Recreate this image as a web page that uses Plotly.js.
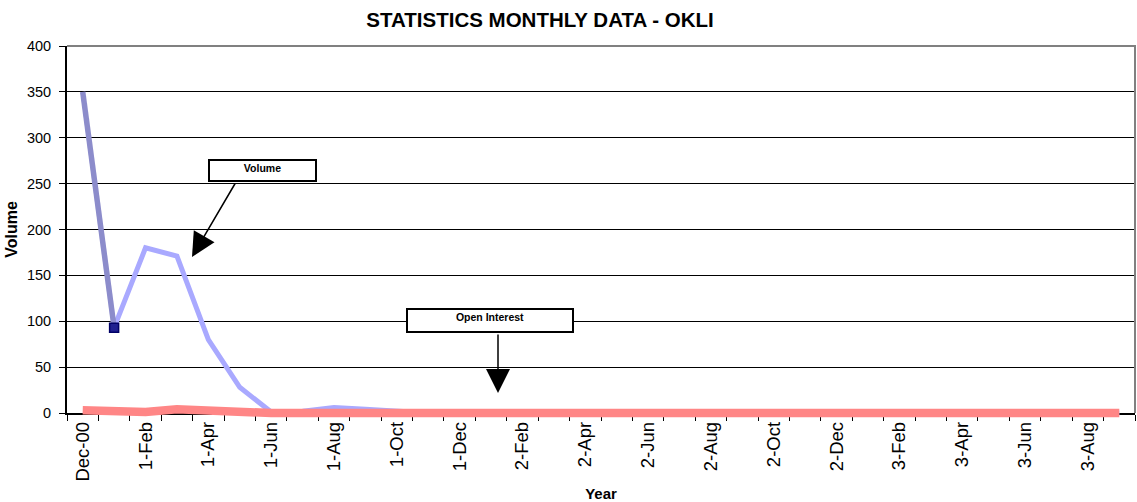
<!DOCTYPE html>
<html><head><meta charset="utf-8">
<script src="https://cdn.plot.ly/plotly-3.0.1.min.js"></script>
<style>html,body{margin:0;padding:0;background:#fff}#chart{width:1137px;height:502px}</style>
</head><body><div id="chart"></div>
<script>
const months = ['Dec-00','1-Jan','1-Feb','1-Mar','1-Apr','1-May','1-Jun','1-Jul','1-Aug','1-Sep','1-Oct','1-Nov','1-Dec',
  '2-Jan','2-Feb','2-Mar','2-Apr','2-May','2-Jun','2-Jul','2-Aug','2-Sep','2-Oct','2-Nov','2-Dec',
  '3-Jan','3-Feb','3-Mar','3-Apr','3-May','3-Jun','3-Jul','3-Aug','3-Sep'];
const tickLabels = ['Dec-00','1-Feb','1-Apr','1-Jun','1-Aug','1-Oct','1-Dec','2-Feb','2-Apr','2-Jun','2-Aug','2-Oct','2-Dec','3-Feb','3-Apr','3-Jun','3-Aug'];
const volume = [350, 93, 180, 171, 80, 28, 1, 2, 6, 4, 2, 0, 0,
  0, 0, 0, 0, 0, 0, 0, 0, 0, 0, 0, 0,
  0, 0, 0, 0, 0, 0, 0, 0, 0];
const openInterest = [3, 3, 1, 4, 2, 1, 0, 0, 0, 0, 0, 0, 0,
  0, 0, 0, 0, 0, 0, 0, 0, 0, 0, 0, 0,
  0, 0, 0, 0, 0, 0, 0, 0, 0];
const yTicks = [0, 50, 100, 150, 200, 250, 300, 350, 400];

const tickText = months.map((m, i) => (i % 2 === 0 ? tickLabels[i / 2] : ''));

const traces = [
  { x: months.slice(1), y: volume.slice(1), type: 'scatter', mode: 'lines',
    line: { color: '#A9A9FF', width: 5 }, hoverinfo: 'skip' },
  { x: months.slice(0, 2), y: volume.slice(0, 2), type: 'scatter', mode: 'lines',
    line: { color: '#8C8CCB', width: 5.5 }, hoverinfo: 'skip' },
  { x: months.slice(1, 2), y: volume.slice(1, 2), type: 'scatter', mode: 'markers',
    marker: { symbol: 'square', size: 9, color: '#1F1F90', line: { color: '#000066', width: 1.5 } }, hoverinfo: 'skip' },
  { x: months, y: openInterest, type: 'scatter', mode: 'lines',
    line: { color: '#FF8686', width: 8.5 }, hoverinfo: 'skip' }
];

const F = 'Arial, "Liberation Sans", sans-serif';
const layout = {
  width: 1137, height: 502,
  margin: { l: 67, r: 2, t: 46, b: 89 },
  paper_bgcolor: '#ffffff', plot_bgcolor: '#ffffff',
  showlegend: false,
  font: { family: F, color: '#000000' },
  title: { text: '<b>STATISTICS MONTHLY DATA - OKLI</b>', font: { family: F, size: 20.5, color: '#000' },
    x: 540 / 1137, xref: 'container', xanchor: 'center', y: 1 - 20 / 502, yref: 'container', yanchor: 'middle' },
  xaxis: {
    type: 'category', categoryorder: 'array', categoryarray: months, range: [-0.5, months.length - 0.5],
    tickmode: 'array', tickvals: months, ticktext: tickText, tickson: 'boundaries',
    ticks: 'outside', ticklen: 6, tickwidth: 1, tickcolor: '#000',
    tickangle: -90, tickfont: { family: F, size: 18.5, color: '#000' },
    showgrid: false, zeroline: false, showline: true, linecolor: '#000', linewidth: 1.5,
    layer: 'below traces',
    title: { text: '<b>Year</b>', font: { family: F, size: 15, color: '#000' }, standoff: 9 },
    fixedrange: true
  },
  yaxis: {
    range: [0, 400], tickmode: 'array', tickvals: yTicks,
    ticks: 'outside', ticklen: 6, tickwidth: 1, tickcolor: '#000', ticklabelstandoff: 5,
    tickfont: { family: F, size: 14.5, color: '#000' },
    showgrid: true, gridcolor: '#000', gridwidth: 1,
    zeroline: false, showline: true, linecolor: '#000', linewidth: 2,
    title: { text: '<b>Volume</b>', font: { family: F, size: 16, color: '#000' }, standoff: 5 },
    fixedrange: true
  },
  shapes: [
    { type: 'path', xref: 'paper', yref: 'paper', path: 'M0,1 L1,1 L1,0', line: { color: '#808080', width: 2 } }
  ],
  annotations: [
    { xref: 'paper', yref: 'paper', x: (262.5 - 67) / 1068, y: (413 - 170.5) / 367, xanchor: 'center', yanchor: 'middle',
      text: '<b>Volume</b>', showarrow: false, font: { family: F, size: 10.5, color: '#000' },
      width: 103, height: 17, valign: 'top', bgcolor: '#fff', bordercolor: '#000', borderwidth: 2, borderpad: 1 },
    { xref: 'paper', yref: 'paper', x: (490 - 67) / 1068, y: (413 - 320.5) / 367, xanchor: 'center', yanchor: 'middle',
      text: '<b>Open Interest</b>', showarrow: false, font: { family: F, size: 10.5, color: '#000' },
      width: 162, height: 19, valign: 'top', bgcolor: '#fff', bordercolor: '#000', borderwidth: 2, borderpad: 1 },
    { xref: 'paper', yref: 'paper', x: (192 - 67) / 1068, y: (413 - 257) / 367, text: '', showarrow: true,
      ax: 44, ay: -75, arrowhead: 2, arrowsize: 3.2, arrowwidth: 1.5, arrowcolor: '#000' },
    { xref: 'paper', yref: 'paper', x: (498 - 67) / 1068, y: (413 - 393) / 367, text: '', showarrow: true,
      ax: 0, ay: -60, arrowhead: 2, arrowsize: 3.2, arrowwidth: 1.5, arrowcolor: '#000' }
  ]
};

function unclip() {
  const gd = document.getElementById('chart');
  gd.querySelectorAll('.cartesianlayer, .cartesianlayer *').forEach(el => {
    el.removeAttribute('clip-path');
    if (el.style) el.style.clipPath = '';
  });
}
Plotly.newPlot('chart', traces, layout, { displayModeBar: false, staticPlot: true }).then(gd => {
  unclip();
  gd.on('plotly_afterplot', unclip);
  setTimeout(unclip, 50);
  setTimeout(unclip, 300);
});
</script>
</body></html>
